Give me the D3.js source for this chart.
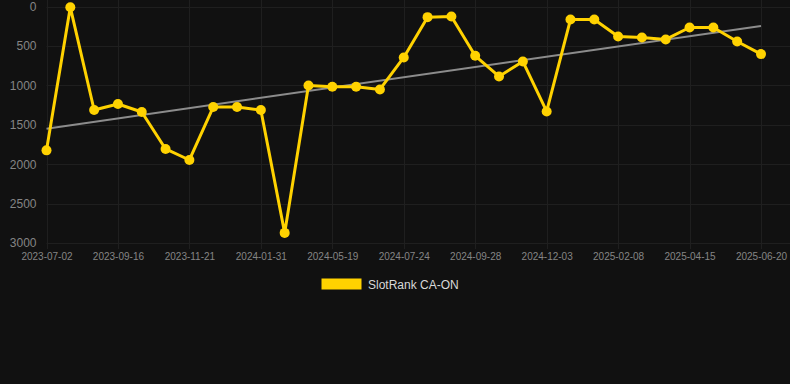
<!DOCTYPE html>
<html>
<head>
<meta charset="utf-8">
<script src="https://cdn.jsdelivr.net/npm/d3@7/dist/d3.min.js"></script>
<style>
  html, body { margin: 0; padding: 0; background: #111111; }
  svg { display: block; font-family: "Liberation Sans", Arial, sans-serif; }
</style>
</head>
<body>
<svg id="chart" width="790" height="384"></svg>
<script>
  'use strict';

  // rank per snapshot, one entry per point (lower is better)
  var rankValues = [1825, 10, 1313, 1237, 1338, 1807, 1947, 1275, 1275, 1313, 2872,
    1001, 1018, 1018, 1052, 646, 135, 127, 625, 887, 697, 1331,
    165, 165, 380, 393, 418, 266, 266, 444, 604];

  // labels shown under every third point
  var tickLabels = ['2023-07-02', '2023-09-16', '2023-11-21', '2024-01-31', '2024-05-19',
    '2024-07-24', '2024-09-28', '2024-12-03', '2025-02-08', '2025-04-15', '2025-06-20'];

  var yTicks = [0, 500, 1000, 1500, 2000, 2500, 3000];
  var seriesName = 'SlotRank CA-ON';

  var svg = d3.select('#chart');
  var padLeft = 46.5, padRight = 761, padTop = 6.5, padBottom = 243, gridRight = 790;

  var idx = d3.range(rankValues.length);
  var x = d3.scalePoint().domain(idx).range([padLeft, padRight]);
  var y = d3.scaleLinear().domain([0, 3000]).range([padTop, padBottom]);

  var tickIdx = idx.filter(function (i) { return i % 3 === 0; });

  // grid
  var grid = svg.append('g').attr('stroke', '#1f1f1f').attr('stroke-width', 1);
  grid.selectAll('line.h').data(yTicks).enter().append('line')
    .attr('x1', padLeft).attr('x2', gridRight)
    .attr('y1', function (d) { return Math.round(y(d)) + 0.5; })
    .attr('y2', function (d) { return Math.round(y(d)) + 0.5; });
  grid.selectAll('line.v').data(tickIdx).enter().append('line')
    .attr('x1', function (d) { return Math.round(x(d)) + 0.5; })
    .attr('x2', function (d) { return Math.round(x(d)) + 0.5; })
    .attr('y1', 0).attr('y2', padBottom + 6);

  // y axis labels
  var yAxis = svg.append('g').attr('transform', 'translate(' + (padLeft - 10) + ',0)')
    .call(d3.axisLeft(y).tickValues(yTicks).tickSize(0).tickPadding(0).tickFormat(d3.format('d')));
  yAxis.select('.domain').remove();
  yAxis.selectAll('text').attr('fill', '#858585').style('font-size', '12px')
    .style('font-family', '"Liberation Sans", Arial, sans-serif');

  // x axis labels
  var xAxis = svg.append('g').attr('transform', 'translate(0,' + (padBottom + 10) + ')')
    .call(d3.axisBottom(x).tickValues(tickIdx).tickSize(0).tickPadding(0)
      .tickFormat(function (d) { return tickLabels[d / 3]; }));
  xAxis.select('.domain').remove();
  xAxis.selectAll('text').attr('fill', '#858585').style('font-size', '10px')
    .style('font-family', '"Liberation Sans", Arial, sans-serif');

  // linear trend (least squares)
  var mx = d3.mean(idx), my = d3.mean(rankValues);
  var sxy = d3.sum(idx, function (i) { return (i - mx) * (rankValues[i] - my); });
  var sxx = d3.sum(idx, function (i) { return (i - mx) * (i - mx); });
  var slope = sxy / sxx, icept = my - slope * mx;
  var ends = [0, rankValues.length - 1];
  svg.append('line')
    .attr('x1', x(ends[0])).attr('y1', y(icept + slope * ends[0]))
    .attr('x2', x(ends[1])).attr('y2', y(icept + slope * ends[1]))
    .attr('stroke', '#8c8c8c').attr('stroke-width', 2);

  // series
  var line = d3.line().x(function (d, i) { return x(i); }).y(function (d) { return y(d); });
  svg.append('path').datum(rankValues)
    .attr('d', line).attr('fill', 'none')
    .attr('stroke', '#ffd200').attr('stroke-width', 3).attr('stroke-linejoin', 'round');
  svg.selectAll('circle.pt').data(rankValues).enter().append('circle')
    .attr('cx', function (d, i) { return x(i); })
    .attr('cy', function (d) { return y(d); })
    .attr('r', 5).attr('fill', '#ffd200');

  // legend
  var legend = svg.append('g');
  legend.append('rect').attr('x', 321.5).attr('y', 278.5).attr('width', 40).attr('height', 11)
    .attr('fill', '#ffd200');
  legend.append('text').attr('x', 368).attr('y', 288.5).text(seriesName)
    .attr('fill', '#d8d8d8').style('font-size', '12px');
</script>
</body>
</html>
